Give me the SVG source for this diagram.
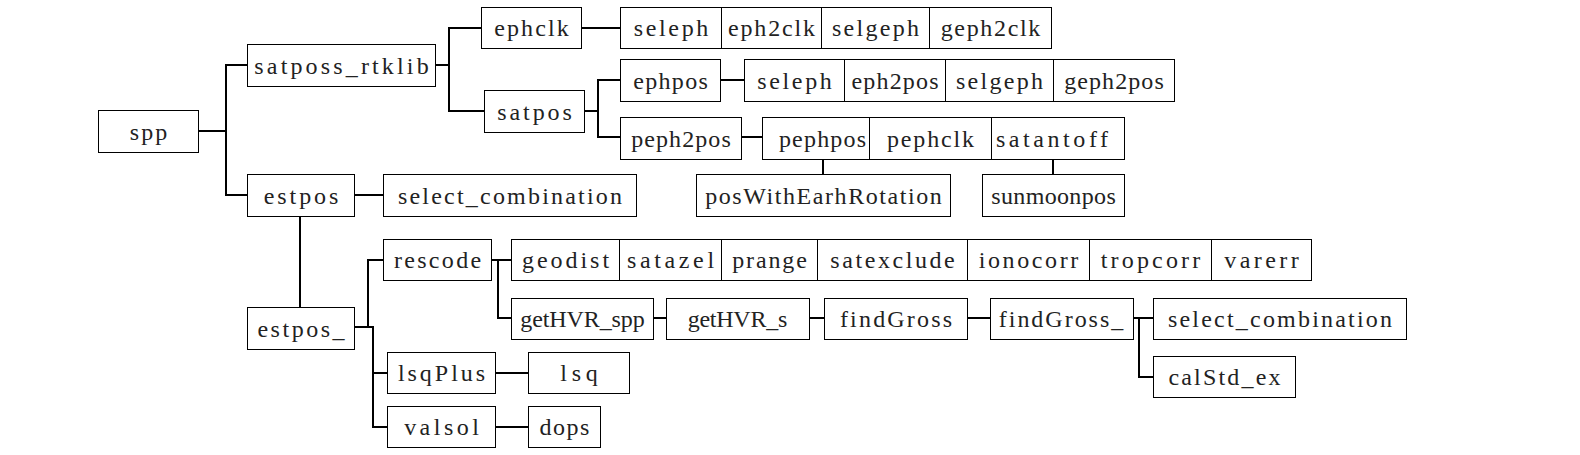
<svg xmlns="http://www.w3.org/2000/svg" width="1580" height="455" viewBox="0 0 1580 455">
<style>
rect{fill:#fff;stroke:#000;stroke-width:1}
text{font-family:"Liberation Serif","DejaVu Serif",serif;font-size:24px;fill:#222;text-anchor:middle}
.c{fill:none;stroke:#000;stroke-width:2;stroke-linejoin:miter}
</style>
<rect x="0" y="0" width="1580" height="455" style="stroke:none"/>
<g id="connectors">
<path class="c" d="M198.5 131H226M247.5 65H226V195H247.5"/>
<path class="c" d="M435.5 65H449M481.5 28H449V111H484.5"/>
<path class="c" d="M581.5 28H620.5"/>
<path class="c" d="M584.5 111H598M620.5 80H598V137H620.5"/>
<path class="c" d="M720.5 80H744.5"/>
<path class="c" d="M741.5 137H762.5"/>
<path class="c" d="M823 159.5V174.5M1053 159.5V174.5"/>
<path class="c" d="M354.5 195H383.5"/>
<path class="c" d="M300 216.5V307.5"/>
<path class="c" d="M354.5 327H373M383.5 260H368V327M387.5 373H373V427H387.5M373 326V373"/>
<path class="c" d="M495.5 373H528.5M495.5 427H528.5"/>
<path class="c" d="M491.5 260H511.5M498 260V318H511.5"/>
<path class="c" d="M653.5 318H666.5M809.5 318H824.5M967.5 318H990.5"/>
<path class="c" d="M1133.5 318H1153.5M1139 318V377H1153.5"/>
</g>
<g id="spp"><rect x="98.5" y="110.5" width="100" height="42"/><text x="148.5" y="139.5" textLength="37.4" lengthAdjust="spacing">spp</text></g>
<g id="satposs_rtklib"><rect x="247.5" y="44.5" width="188" height="42"/><text x="341.5" y="73.5" textLength="174.3" lengthAdjust="spacing">satposs_rtklib</text></g>
<g id="estpos"><rect x="247.5" y="174.5" width="107" height="42"/><text x="301" y="203.5" textLength="74.7" lengthAdjust="spacing">estpos</text></g>
<g id="select_combination_1"><rect x="383.5" y="174.5" width="253" height="42"/><text x="510" y="203.5" textLength="224.1" lengthAdjust="spacing">select_combination</text></g>
<g id="ephclk"><rect x="481.5" y="7.5" width="100" height="41"/><text x="531.5" y="36" textLength="74.7" lengthAdjust="spacing">ephclk</text></g>
<g id="satpos"><rect x="484.5" y="90.5" width="100" height="42"/><text x="534.5" y="119.5" textLength="74.7" lengthAdjust="spacing">satpos</text></g>
<g id="seleph_1"><rect x="620.5" y="7.5" width="101" height="41"/><text x="671" y="36" textLength="74.7" lengthAdjust="spacing">seleph</text></g>
<g id="eph2clk"><rect x="721.5" y="7.5" width="100" height="41"/><text x="771.5" y="36" textLength="87.2" lengthAdjust="spacing">eph2clk</text></g>
<g id="selgeph_1"><rect x="821.5" y="7.5" width="108" height="41"/><text x="875.5" y="36" textLength="87.2" lengthAdjust="spacing">selgeph</text></g>
<g id="geph2clk"><rect x="929.5" y="7.5" width="122" height="41"/><text x="990.5" y="36" textLength="99.6" lengthAdjust="spacing">geph2clk</text></g>
<g id="ephpos"><rect x="620.5" y="59.5" width="100" height="42"/><text x="670.5" y="88.5" textLength="74.7" lengthAdjust="spacing">ephpos</text></g>
<g id="seleph_2"><rect x="744.5" y="59.5" width="100" height="42"/><text x="794.5" y="88.5" textLength="74.7" lengthAdjust="spacing">seleph</text></g>
<g id="eph2pos"><rect x="844.5" y="59.5" width="101" height="42"/><text x="895" y="88.5" textLength="87.2" lengthAdjust="spacing">eph2pos</text></g>
<g id="selgeph_2"><rect x="945.5" y="59.5" width="108" height="42"/><text x="999.5" y="88.5" textLength="87.2" lengthAdjust="spacing">selgeph</text></g>
<g id="geph2pos"><rect x="1053.5" y="59.5" width="121" height="42"/><text x="1114" y="88.5" textLength="99.6" lengthAdjust="spacing">geph2pos</text></g>
<g id="peph2pos"><rect x="620.5" y="117.5" width="121" height="42"/><text x="681" y="146.5" textLength="99.6" lengthAdjust="spacing">peph2pos</text></g>
<g id="pephpos"><rect x="762.5" y="117.5" width="107" height="42"/><text x="822.5" y="146.5" textLength="87.2" lengthAdjust="spacing">pephpos</text></g>
<g id="pephclk"><rect x="869.5" y="117.5" width="122" height="42"/><text x="930.5" y="146.5" textLength="87.2" lengthAdjust="spacing">pephclk</text></g>
<g id="satantoff"><rect x="991.5" y="117.5" width="133" height="42"/><text x="1052" y="146.5" textLength="112.1" lengthAdjust="spacing">satantoff</text></g>
<g id="posWithEarhRotation"><rect x="696.5" y="174.5" width="254" height="42"/><text x="823.5" y="203.5" textLength="236.6" lengthAdjust="spacing">posWithEarhRotation</text></g>
<g id="sunmoonpos"><rect x="982.5" y="174.5" width="142" height="42"/><text x="1053.5" y="203.5" textLength="124.5" lengthAdjust="spacing">sunmoonpos</text></g>
<g id="estpos_"><rect x="247.5" y="307.5" width="107" height="42"/><text x="301" y="336.5" textLength="87.2" lengthAdjust="spacing">estpos_</text></g>
<g id="rescode"><rect x="383.5" y="239.5" width="108" height="41"/><text x="437.5" y="268" textLength="87.2" lengthAdjust="spacing">rescode</text></g>
<g id="geodist"><rect x="511.5" y="239.5" width="108" height="41"/><text x="565.5" y="268" textLength="87.2" lengthAdjust="spacing">geodist</text></g>
<g id="satazel"><rect x="619.5" y="239.5" width="102" height="41"/><text x="670.5" y="268" textLength="87.2" lengthAdjust="spacing">satazel</text></g>
<g id="prange"><rect x="721.5" y="239.5" width="96" height="41"/><text x="769.5" y="268" textLength="74.7" lengthAdjust="spacing">prange</text></g>
<g id="satexclude"><rect x="817.5" y="239.5" width="150" height="41"/><text x="892.5" y="268" textLength="124.5" lengthAdjust="spacing">satexclude</text></g>
<g id="ionocorr"><rect x="967.5" y="239.5" width="122" height="41"/><text x="1028.5" y="268" textLength="99.6" lengthAdjust="spacing">ionocorr</text></g>
<g id="tropcorr"><rect x="1089.5" y="239.5" width="122" height="41"/><text x="1150.5" y="268" textLength="99.6" lengthAdjust="spacing">tropcorr</text></g>
<g id="varerr"><rect x="1211.5" y="239.5" width="100" height="41"/><text x="1261.5" y="268" textLength="74.7" lengthAdjust="spacing">varerr</text></g>
<g id="getHVR_spp"><rect x="511.5" y="298.5" width="142" height="41"/><text x="582.5" y="327" textLength="124.5" lengthAdjust="spacing">getHVR_spp</text></g>
<g id="getHVR_s"><rect x="666.5" y="298.5" width="143" height="41"/><text x="737.5" y="327" textLength="99.6" lengthAdjust="spacing">getHVR_s</text></g>
<g id="findGross"><rect x="824.5" y="298.5" width="143" height="41"/><text x="896" y="327" textLength="112.1" lengthAdjust="spacing">findGross</text></g>
<g id="findGross_"><rect x="990.5" y="298.5" width="143" height="41"/><text x="1061" y="327" textLength="124.5" lengthAdjust="spacing">findGross_</text></g>
<g id="select_combination_2"><rect x="1153.5" y="298.5" width="253" height="41"/><text x="1280" y="327" textLength="224.1" lengthAdjust="spacing">select_combination</text></g>
<g id="calStd_ex"><rect x="1153.5" y="356.5" width="142" height="41"/><text x="1224.5" y="385" textLength="112.1" lengthAdjust="spacing">calStd_ex</text></g>
<g id="lsqPlus"><rect x="387.5" y="352.5" width="108" height="41"/><text x="441.5" y="381" textLength="87.2" lengthAdjust="spacing">lsqPlus</text></g>
<g id="lsq"><rect x="528.5" y="352.5" width="101" height="41"/><text x="579" y="381" textLength="37.4" lengthAdjust="spacing">lsq</text></g>
<g id="valsol"><rect x="387.5" y="406.5" width="108" height="41"/><text x="441.5" y="435" textLength="74.7" lengthAdjust="spacing">valsol</text></g>
<g id="dops"><rect x="528.5" y="406.5" width="72" height="41"/><text x="564.5" y="435" textLength="49.8" lengthAdjust="spacing">dops</text></g>
</svg>
